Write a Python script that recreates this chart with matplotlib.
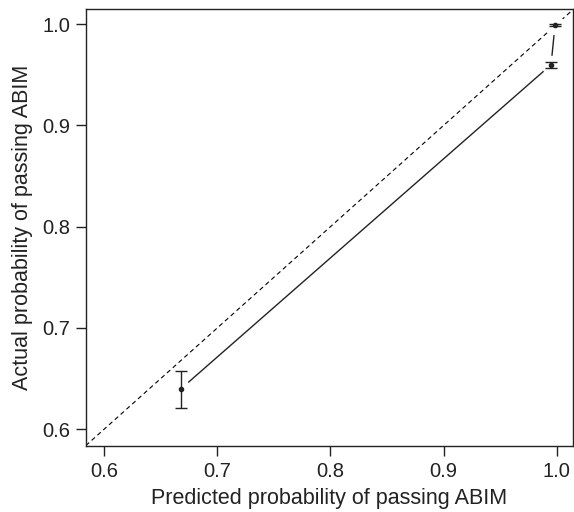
import matplotlib
matplotlib.use("Agg")
import matplotlib.pyplot as plt

# calibration points (predicted vs actual)
predicho = [0.668, 0.995, 0.9985]
real = [0.640, 0.960, 0.9993]
err_inf = [0.621, 0.957, 0.998]
err_sup = [0.658, 0.963, 1.0006]

plt.rcParams['font.family'] = ['Liberation Sans', 'DejaVu Sans']

fig = plt.figure(figsize=(5.74, 5.12), dpi=100)
ax = fig.add_axes([0.149, 0.128, 0.8487, 0.854])

# linea de referencia y = x
ax.plot([0.5, 1.1], [0.5, 1.1], color="black", lw=0.8, ls=(0, (4, 3)), zorder=1)

# linea con huecos alrededor de los puntos (tipo "b" de R)
ax.plot(predicho, real, color="#222222", lw=1.0, marker="o", markersize=13,
        markerfacecolor="white", markeredgecolor="white", zorder=2)

yerr = [[r - a for r, a in zip(real, err_inf)], [b - r for r, b in zip(real, err_sup)]]
ax.errorbar(predicho, real, yerr=yerr, fmt="o", color="#222222", markersize=3,
            elinewidth=1.0, capsize=4, capthick=1.0, zorder=3)

ax.set_xlim(0.5836, 1.0141)
ax.set_ylim(0.583, 1.0148)
ax.set_xticks([0.6, 0.7, 0.8, 0.9, 1.0])
ax.set_yticks([0.6, 0.7, 0.8, 0.9, 1.0])
ax.set_xticklabels(["0.6", "0.7", "0.8", "0.9", "1.0"])
ax.set_yticklabels(["0.6", "0.7", "0.8", "0.9", "1.0"])
ax.tick_params(direction="out", length=7, width=1, labelsize=14.5, colors="#222222", pad=4)
for s in ax.spines.values():
    s.set_linewidth(1.0)
    s.set_color("#222222")

ax.set_xlabel("Predicted probability of passing ABIM", fontsize=15.5, color="#222222", labelpad=5)
ax.set_ylabel("Actual probability of passing ABIM", fontsize=15.5, color="#222222", labelpad=7)

fig.savefig("out.png", dpi=100)
